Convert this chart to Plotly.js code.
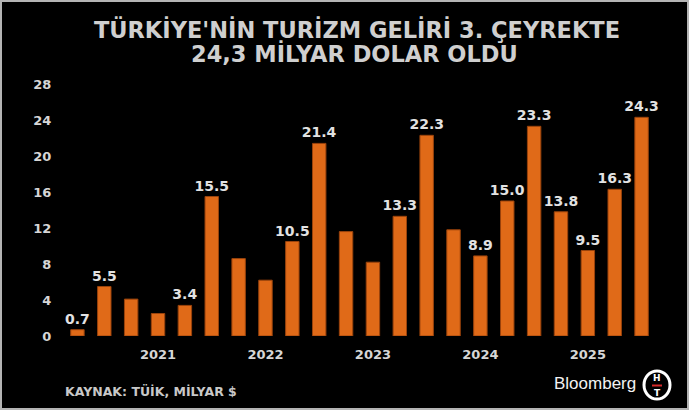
<!DOCTYPE html>
<html>
<head>
<meta charset="utf-8">
<script src="https://cdn.plot.ly/plotly-3.0.1.min.js"></script>
<style>
  html, body { margin: 0; padding: 0; background: #000; }
  #chart { width: 689px; height: 410px; }
</style>
</head>
<body>
<div id="chart"></div>
<script>
// ---- data ----
const quarters = [
  "2020-Ç2","2020-Ç3","2020-Ç4",
  "2021-Ç1","2021-Ç2","2021-Ç3","2021-Ç4",
  "2022-Ç1","2022-Ç2","2022-Ç3","2022-Ç4",
  "2023-Ç1","2023-Ç2","2023-Ç3","2023-Ç4",
  "2024-Ç1","2024-Ç2","2024-Ç3","2024-Ç4",
  "2025-Ç1","2025-Ç2","2025-Ç3"
];
const revenue = [
  0.7, 5.5, 4.1,
  2.5, 3.4, 15.5, 8.6,
  6.2, 10.5, 21.4, 11.6,
  8.2, 13.3, 22.3, 11.8,
  8.9, 15.0, 23.3, 13.8,
  9.5, 16.3, 24.3
];
const labeled = [
  true, true, false,
  false, true, true, false,
  false, true, true, false,
  false, true, true, false,
  true, true, true, true,
  true, true, true
];
const yearTickVals = ["2021-Ç1","2022-Ç1","2023-Ç1","2024-Ç1","2025-Ç1"];
const yearTickText = ["2021","2022","2023","2024","2025"];
const yTicks = [0, 4, 8, 12, 16, 20, 24, 28];
const titleLine1 = "TÜRKİYE'NİN TURİZM GELİRİ 3. ÇEYREKTE";
const titleLine2 = "24,3 MİLYAR DOLAR OLDU";
const sourceText = "KAYNAK: TÜİK, MİLYAR $";

// ---- geometry helpers (layout only) ----
const W = 689, H = 410;
const M = {l: 64, r: 34, t: 84, b: 74};
const PW = W - M.l - M.r, PH = H - M.t - M.b;
const px = x => (x - M.l) / PW;
const py = y => (H - M.b - y) / PH;

const labelText = revenue.map((v, i) => labeled[i] ? v.toFixed(1) : "");

const bars = {
  type: "bar",
  x: quarters,
  y: revenue,
  text: labelText,
  textposition: "outside",
  constraintext: "none",
  cliponaxis: false,
  textfont: {family: "DejaVu Sans", size: 14, color: "#e2e2e2", weight: "bold"},
  marker: {color: "#E06A18", line: {color: "#9a430c", width: 1}},
  hoverinfo: "skip"
};

const bold = "DejaVu Sans";
const titleFont = {family: bold, size: 22.5, color: "#cfcfcf", weight: "bold"};
const layout = {
  width: W, height: H,
  paper_bgcolor: "#000", plot_bgcolor: "#000",
  margin: M,
  showlegend: false,
  bargap: 0.5,
  title: {
    text: titleLine1,
    font: titleFont,
    x: 357 / W, xanchor: "center", xref: "container",
    y: 1 - 22 / H, yanchor: "top", yref: "container"
  },
  xaxis: {
    type: "category",
    categoryorder: "array", categoryarray: quarters,
    tickmode: "array", tickvals: yearTickVals, ticktext: yearTickText,
    tickfont: {family: bold, size: 13, color: "#d6d6d6", weight: "bold"},
    ticks: "outside", ticklen: 6, tickcolor: "#000",
    showgrid: false, zeroline: false, showline: false,
    range: [-0.5, quarters.length - 0.5]
  },
  yaxis: {
    range: [0, 28],
    tickmode: "array", tickvals: yTicks, ticktext: yTicks.map(String),
    tickfont: {family: bold, size: 13, color: "#d6d6d6", weight: "bold"},
    ticks: "outside", ticklen: 9, tickcolor: "#000",
    showgrid: false, zeroline: false, showline: false
  },
  annotations: [
    {text: titleLine2, xref: "paper", yref: "paper",
     x: px(354), y: py(53), xanchor: "center", yanchor: "middle", showarrow: false,
     font: titleFont},
    {text: sourceText, xref: "paper", yref: "paper",
     x: px(63), y: py(391), xanchor: "left", yanchor: "middle", showarrow: false,
     font: {family: bold, size: 12.5, color: "#c8c8c8", weight: "bold"}},
    {text: "Bloomberg", xref: "paper", yref: "paper",
     x: px(638), y: py(383), xanchor: "right", yanchor: "middle", showarrow: false,
     font: {family: "Liberation Sans", size: 17, color: "#f2f2f2"}},
    {text: "H", xref: "paper", yref: "paper",
     x: px(657), y: py(378), xanchor: "center", yanchor: "middle", showarrow: false,
     font: {family: bold, size: 9, color: "#ffffff", weight: "bold"}},
    {text: "T", xref: "paper", yref: "paper",
     x: px(657), y: py(393), xanchor: "center", yanchor: "middle", showarrow: false,
     font: {family: bold, size: 9, color: "#ffffff", weight: "bold"}}
  ],
  shapes: [
    {type: "rect", xref: "paper", yref: "paper",
     x0: px(1), x1: px(688), y0: py(409), y1: py(1),
     line: {color: "#b4b4b4", width: 2}, fillcolor: "rgba(0,0,0,0)", layer: "above"},
    {type: "circle", xref: "paper", yref: "paper",
     x0: px(644), x1: px(670), y0: py(399), y1: py(371),
     line: {color: "#ffffff", width: 3}, fillcolor: "#000"},
    {type: "line", xref: "paper", yref: "paper",
     x0: px(652), x1: px(662), y0: py(385.5), y1: py(385.5),
     line: {color: "#d42a2a", width: 2}}
  ]
};

Plotly.newPlot("chart", [bars], layout, {displayModeBar: false, staticPlot: true});
</script>
</body>
</html>
